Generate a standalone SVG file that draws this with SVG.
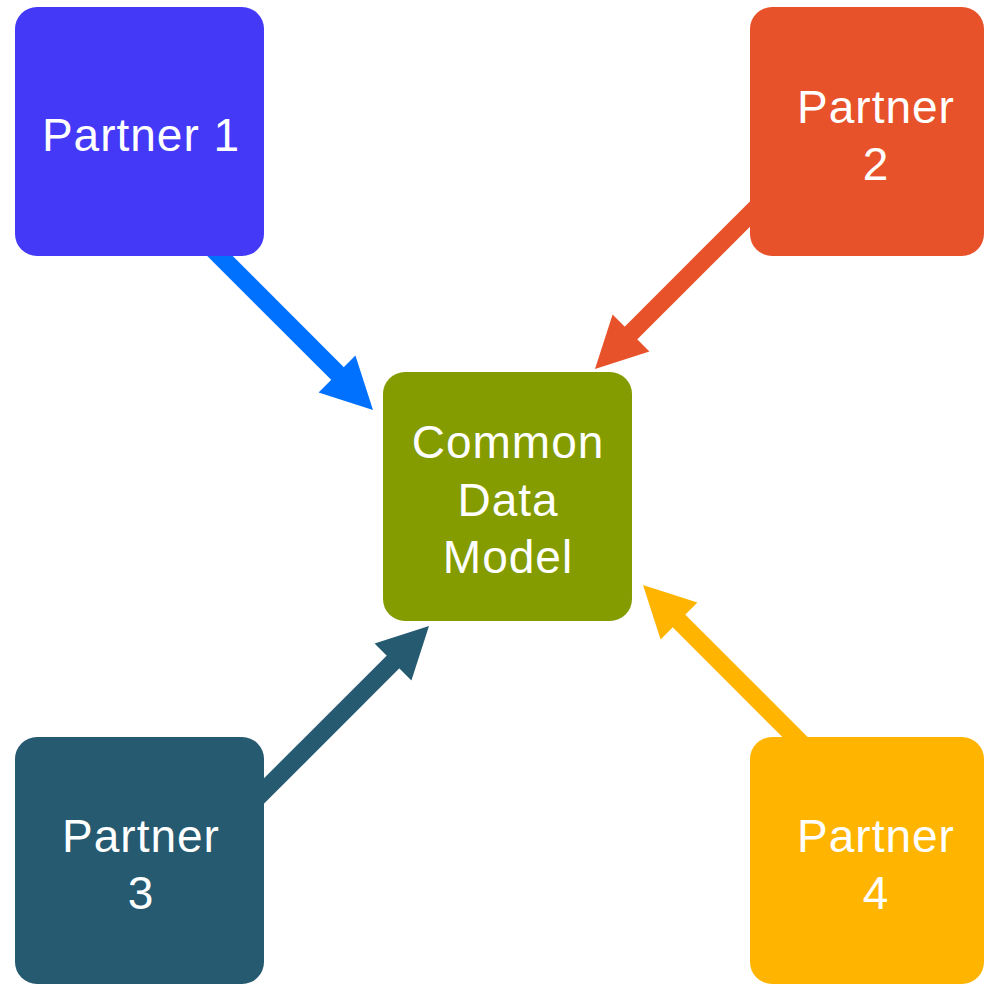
<svg xmlns="http://www.w3.org/2000/svg" width="984" height="984" viewBox="0 0 984 984">
<style>
.lbl{font-family:"Liberation Sans",Arial,sans-serif;font-size:46px;fill:#ffffff;text-anchor:middle;letter-spacing:1px}
.ln{stroke-width:18;fill:none}
</style>
<rect width="984" height="984" fill="#ffffff"/>
<g id="connectors">
<g id="c1"><line class="ln" x1="205" y1="241" x2="345" y2="381" stroke="#0070FF"/><polygon points="373,410 355.4,355.6 318.6,392.4" fill="#0070FF"/></g>
<g id="c2"><line class="ln" x1="760" y1="204" x2="624" y2="340" stroke="#E8522A"/><polygon points="595,369 649.4,351.4 612.6,314.6" fill="#E8522A"/></g>
<g id="c3"><line class="ln" x1="254" y1="801" x2="400" y2="655" stroke="#255A71"/><polygon points="429,626 411.4,680.4 374.6,643.6" fill="#255A71"/></g>
<g id="c4"><line class="ln" x1="815" y1="757" x2="672" y2="614" stroke="#FFB500"/><polygon points="643,585 697.4,602.6 660.6,639.4" fill="#FFB500"/></g>
</g>
<g id="partner1"><rect x="15" y="7" width="249" height="249" rx="22" fill="#4339F7"/><text class="lbl" x="141" y="151">Partner 1</text></g>
<g id="partner2"><rect x="750" y="7" width="234" height="249" rx="22" fill="#E8522A"/><text class="lbl" x="876" y="123">Partner</text><text class="lbl" x="876" y="180">2</text></g>
<g id="partner3"><rect x="15" y="737" width="249" height="247" rx="22" fill="#255A71"/><text class="lbl" x="141" y="852">Partner</text><text class="lbl" x="141" y="909">3</text></g>
<g id="partner4"><rect x="750" y="737" width="234" height="247" rx="22" fill="#FFB500"/><text class="lbl" x="876" y="852">Partner</text><text class="lbl" x="876" y="909">4</text></g>
<g id="cdm"><rect x="383" y="372" width="249" height="249" rx="22" fill="#849C00"/><text class="lbl" x="508" y="458">Common</text><text class="lbl" x="508" y="516">Data</text><text class="lbl" x="508" y="573">Model</text></g>
</svg>
